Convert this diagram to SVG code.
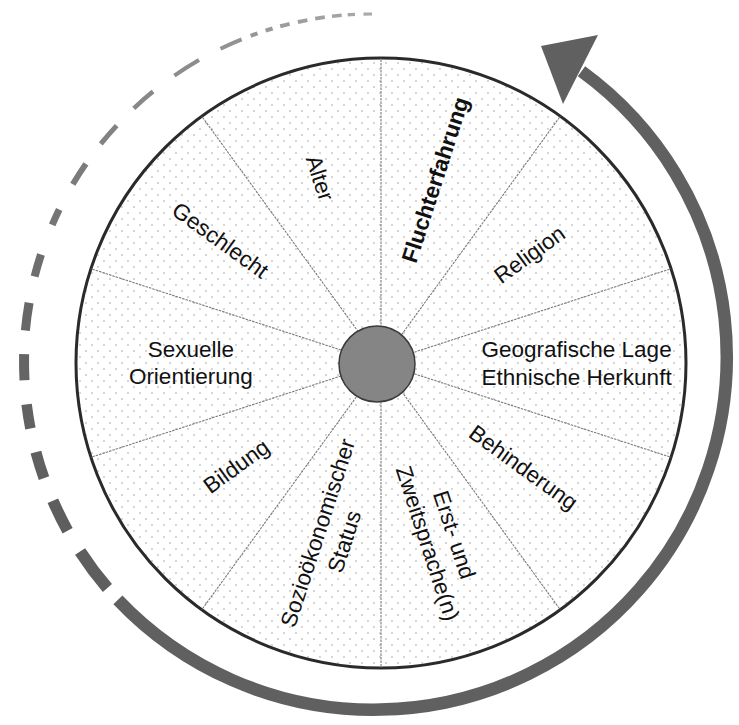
<svg xmlns="http://www.w3.org/2000/svg" width="739" height="725" viewBox="0 0 739 725">
<style>
.lbl{font-family:"Liberation Sans",Arial,sans-serif;font-size:22.5px;fill:#111;text-anchor:middle}
.bold{font-weight:bold}
.spoke{stroke:#7a7a7a;stroke-width:1.1;stroke-dasharray:2.5 1}
.dash{fill:none;stroke-linecap:butt}
</style>
<defs>
<pattern id="dots" width="12" height="12" patternUnits="userSpaceOnUse">
<circle cx="2" cy="3" r="0.65" fill="#8a8a8a"/>
<circle cx="8" cy="9" r="0.65" fill="#8a8a8a"/>
</pattern>
</defs>
<rect width="739" height="725" fill="#ffffff"/>

<g id="wheel">
<circle cx="381" cy="363" r="305" fill="#ffffff"/>
<circle cx="381" cy="363" r="305" fill="url(#dots)" stroke="#2a2a2a" stroke-width="3"/>
</g>

<g id="connectors">
<line class="spoke" x1="381" y1="363" x2="381" y2="58"/>
<line class="spoke" x1="381" y1="363" x2="560.3" y2="116.2"/>
<line class="spoke" x1="381" y1="363" x2="671.1" y2="268.7"/>
<line class="spoke" x1="381" y1="363" x2="671.1" y2="457.3"/>
<line class="spoke" x1="381" y1="363" x2="560.3" y2="609.8"/>
<line class="spoke" x1="381" y1="363" x2="381" y2="668"/>
<line class="spoke" x1="381" y1="363" x2="201.7" y2="609.8"/>
<line class="spoke" x1="381" y1="363" x2="90.9" y2="457.3"/>
<line class="spoke" x1="381" y1="363" x2="90.9" y2="268.7"/>
<line class="spoke" x1="381" y1="363" x2="201.7" y2="116.2"/>
</g>

<g id="hub">
<circle cx="377" cy="364" r="38" fill="#858585" stroke="#3a3a3a" stroke-width="1.5"/>
</g>

<g id="solid-arrow">
<path d="M117.9 599.9 A353 353 0 1 0 581.5 71.3" fill="none" stroke="#606060" stroke-width="12.5"/>
<polygon points="541,46 598,35 563,104" fill="#606060"/>
</g>

<g id="dashed-arc">
<path class="dash" d="M107.4 588.0 A348 348 0 0 1 80.1 551.5" stroke="#5e5e5e" stroke-width="12"/>
<path class="dash" d="M67.6 530.7 A348 348 0 0 1 52.9 500.7" stroke="#5e5e5e" stroke-width="11.5"/>
<path class="dash" d="M44.0 478.2 A348 348 0 0 1 35.9 452.1" stroke="#606060" stroke-width="11"/>
<path class="dash" d="M30.4 428.4 A348 348 0 0 1 26.6 404.4" stroke="#626262" stroke-width="10.5"/>
<path class="dash" d="M24.5 380.2 A348 348 0 0 1 24.1 354.1" stroke="#656565" stroke-width="10"/>
<path class="dash" d="M25.4 330.5 A348 348 0 0 1 29.1 302.8" stroke="#686868" stroke-width="9"/>
<path class="dash" d="M34.6 276.6 A348 348 0 0 1 41.0 254.5" stroke="#6e6e6e" stroke-width="8"/>
<path class="dash" d="M52.2 224.9 A348 348 0 0 1 59.2 209.4" stroke="#757575" stroke-width="7"/>
<path class="dash" d="M72.8 184.3 A348 348 0 0 1 85.9 163.9" stroke="#7b7b7b" stroke-width="6"/>
<path class="dash" d="M100.8 143.9 A348 348 0 0 1 116.7 125.6" stroke="#828282" stroke-width="5"/>
<path class="dash" d="M133.8 108.3 A348 348 0 0 1 153.0 91.6" stroke="#888888" stroke-width="4.5"/>
<path class="dash" d="M174.4 75.6 A348 348 0 0 1 199.0 60.0" stroke="#8c8c8c" stroke-width="4.2"/>
<path class="dash" d="M220.5 48.7 A348 348 0 0 1 241.6 39.3" stroke="#929292" stroke-width="4"/>
<path class="dash" d="M250.7 35.8 A348 348 0 0 1 257.5 33.3" stroke="#969696" stroke-width="4"/>
<path class="dash" d="M265.6 30.7 A348 348 0 0 1 272.6 28.5" stroke="#999999" stroke-width="4"/>
<path class="dash" d="M280.2 26.3 A348 348 0 0 1 289.6 23.9" stroke="#9c9c9c" stroke-width="4"/>
<path class="dash" d="M297.9 22.0 A348 348 0 0 1 307.4 20.1" stroke="#9e9e9e" stroke-width="4"/>
<path class="dash" d="M315.2 18.7 A348 348 0 0 1 324.8 17.2" stroke="#a0a0a0" stroke-width="3.8"/>
<path class="dash" d="M332.0 16.3 A348 348 0 0 1 341.7 15.3" stroke="#a3a3a3" stroke-width="3.6"/>
<path class="dash" d="M347.7 14.8 A348 348 0 0 1 355.0 14.4" stroke="#a6a6a6" stroke-width="3.4"/>
<path class="dash" d="M363.5 14.1 A348 348 0 0 1 372.0 14.0" stroke="#aaaaaa" stroke-width="3.2"/>
</g>

<g id="label-alter"><text class="lbl" transform="translate(319.2 178.3) rotate(72)" y="7">Alter</text></g>
<g id="label-fluchterfahrung"><text class="lbl bold" transform="translate(436 180) rotate(-72)" y="7">Fluchterfahrung</text></g>
<g id="label-religion"><text class="lbl" transform="translate(530 255) rotate(-36)" y="7">Religion</text></g>
<g id="label-geografische"><text class="lbl"><tspan x="576.6" y="357">Geografische Lage</tspan><tspan x="576.6" y="385">Ethnische Herkunft</tspan></text></g>
<g id="label-behinderung"><text class="lbl" transform="translate(523 468) rotate(36)" y="7">Behinderung</text></g>
<g id="label-sprache"><text class="lbl" transform="translate(440.3 539.2) rotate(72)"><tspan x="0" y="-7">Erst- und</tspan><tspan x="0" y="21">Zweitsprache(n)</tspan></text></g>
<g id="label-sozio"><text class="lbl" transform="translate(331.7 537.5) rotate(-72)"><tspan x="0" y="-7">Sozioökonomischer</tspan><tspan x="0" y="21">Status</tspan></text></g>
<g id="label-bildung"><text class="lbl" transform="translate(236.7 466.7) rotate(-36)" y="7">Bildung</text></g>
<g id="label-sexuelle"><text class="lbl"><tspan x="190.8" y="356.7">Sexuelle</tspan><tspan x="190.8" y="384">Orientierung</tspan></text></g>
<g id="label-geschlecht"><text class="lbl" transform="translate(220 240.8) rotate(36)" y="7">Geschlecht</text></g>
</svg>
